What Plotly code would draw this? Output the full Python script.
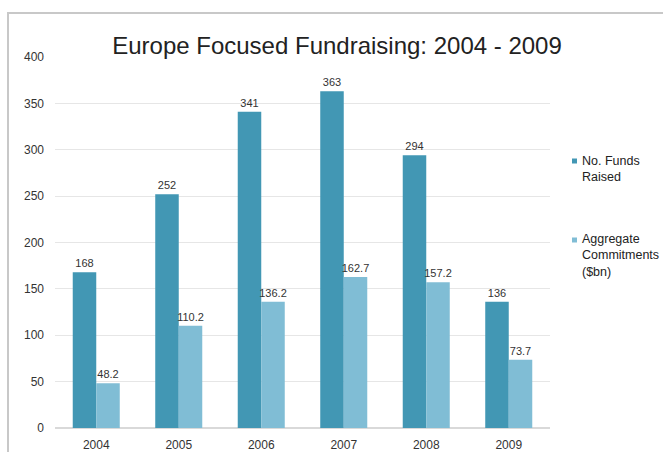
import plotly.graph_objects as go

years = ["2004", "2005", "2006", "2007", "2008", "2009"]
funds_raised = [168, 252, 341, 363, 294, 136]
commitments = [48.2, 110.2, 136.2, 162.7, 157.2, 73.7]
series_names = ["No. Funds<br>Raised", "Aggregate<br>Commitments<br>($bn)"]

FONT = "Liberation Sans, Arial, sans-serif"
DARK = "#4297b4"
LIGHT = "#80bdd5"

W, H = 663, 452
L, R, T, B = 55, 113, 57, 24
PW, PH = W - L - R, H - T - B


def px_x(x):
    return (x - L) / PW


def px_y(y):
    return (H - B - y) / PH


fig = go.Figure()
for vals, color, name in [(funds_raised, DARK, series_names[0]),
                          (commitments, LIGHT, series_names[1])]:
    fig.add_trace(go.Bar(
        x=years, y=vals, name=name, marker_color=color,
        marker_line_width=0,
        text=[str(v) for v in vals], textposition="outside",
        constraintext="none", textangle=0, cliponaxis=False,
        textfont=dict(size=11, color="#333333", family=FONT),
        showlegend=False,
    ))

# side legend: small colour squares with wrapped labels
legend_items = [(DARK, series_names[0], 161, 168.5),
                (LIGHT, series_names[1], 240, 255.5)]
shapes = [dict(
    type="rect", xref="paper", yref="paper", layer="below",
    x0=px_x(8), x1=2.0, y0=-1.0, y1=px_y(13),
    line=dict(color="#c8c8c8", width=2), fillcolor="rgba(0,0,0,0)",
)]
annotations = []
for color, label, my, ty in legend_items:
    shapes.append(dict(
        type="rect", xref="paper", yref="paper",
        x0=px_x(572), x1=px_x(577), y0=px_y(my + 2.5), y1=px_y(my - 2.5),
        line=dict(width=0), fillcolor=color,
    ))
    annotations.append(dict(
        text=label, xref="paper", yref="paper", x=px_x(580), y=px_y(ty),
        xanchor="left", yanchor="middle", align="left", showarrow=False,
        font=dict(size=12.5, color="#222222", family=FONT),
    ))

fig.update_layout(
    width=W, height=H,
    margin=dict(l=L, r=R, t=T, b=B, autoexpand=False),
    paper_bgcolor="white", plot_bgcolor="white",
    barmode="group", bargap=0.43, bargroupgap=0,
    font=dict(family=FONT, size=12, color="#333333"),
    title=dict(
        text="Europe Focused Fundraising: 2004 - 2009",
        x=337 / W, xanchor="center", y=1 - 46 / H, yanchor="middle",
        font=dict(size=24, color="#222222", family=FONT),
        automargin=False,
    ),
    showlegend=False,
    xaxis=dict(
        showgrid=False, showline=False, ticks="", ticklabelstandoff=8,
        tickfont=dict(size=12, color="#333333"), automargin=False,
    ),
    yaxis=dict(
        range=[0, 400], dtick=50, showgrid=True, gridcolor="#e6e6e6",
        gridwidth=1, zeroline=True, zerolinecolor="#d9d9d9",
        showline=False, ticks="", ticklabelstandoff=10,
        tickfont=dict(size=12, color="#333333"), automargin=False,
    ),
    shapes=shapes,
    annotations=annotations,
)

fig.write_html("out.html")
